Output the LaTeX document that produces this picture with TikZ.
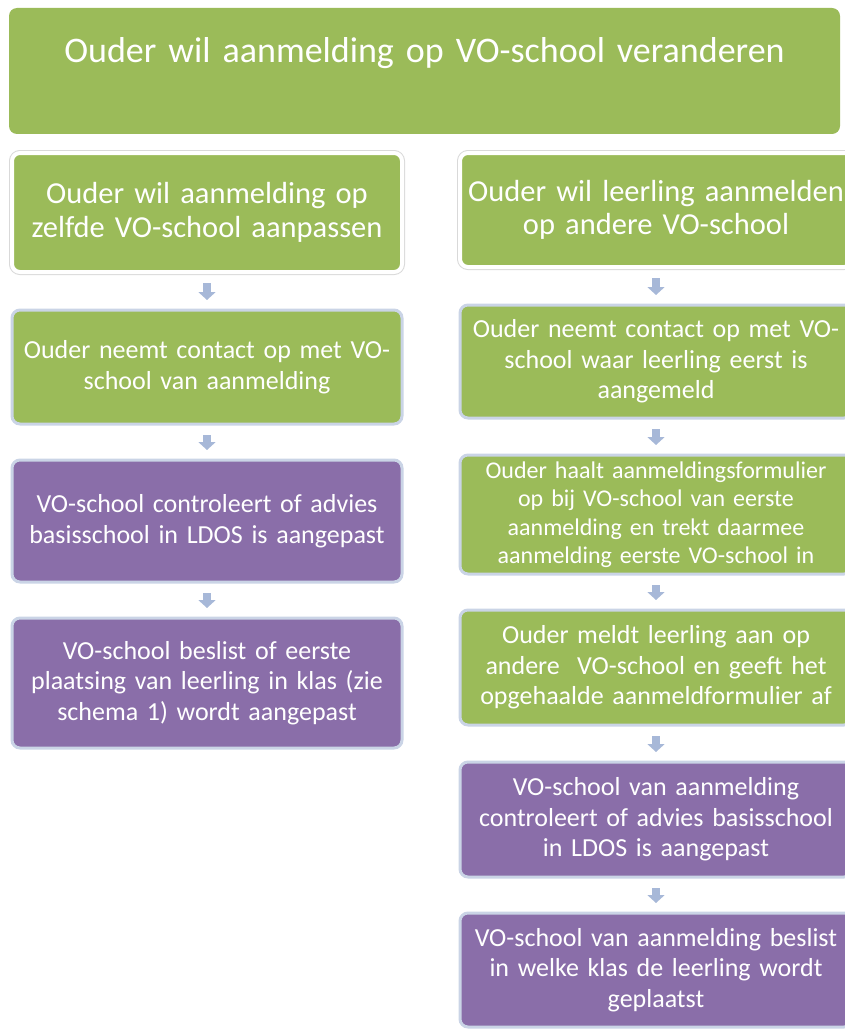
\documentclass[tikz,border=0pt]{standalone}
\usepackage{fontspec}
\setmainfont{Carlito}
\usetikzlibrary{arrows.meta}
\definecolor{groen}{HTML}{9BBB59}
\definecolor{paars}{HTML}{8A6EA9}
\definecolor{pijl}{HTML}{A7B8D8}
\definecolor{rand}{HTML}{CAD4E6}
\tikzset{
	blok/.style={rectangle, rounded corners=8pt, inner sep=0pt, outer sep=0pt, align=center, text=white, minimum width=390pt, text width=388pt},
	groenblok/.style={blok, fill=groen, draw=rand, line width=3pt, font=\fontsize{26}{30.5}\selectfont},
	paarsblok/.style={blok, fill=paars, draw=rand, line width=3pt, font=\fontsize{26}{30.5}\selectfont},
	kopblok/.style={blok, fill=groen, preaction={draw=black!15, line width=6pt}, draw=white, line width=4pt, font=\fontsize{30.5}{33.5}\selectfont},
	pijlstap/.style={draw=pijl, line width=8pt, -{Triangle[width=17pt,length=8pt]}, shorten <=11pt, shorten >=10pt}
}
\begin{document}
\begin{tikzpicture}[x=1pt,y=-1pt]
	\def\xL{207}
	\def\xR{656}
\useasboundingbox (0,0) rectangle (845,1030);
\clip (0,0) rectangle (845,1030);

%Kop
\node[blok, fill=groen, anchor=north, minimum width=831pt, text width=820pt, text height=55pt, text depth=71pt, font=\fontsize{36}{40}\selectfont] (top) at (424.5,8) {Ouder wil aanmelding op VO-school veranderen};

%Linker kolom
\node[kopblok, minimum height=119pt] (L1) at (\xL,212.5) {Ouder wil aanmelding op\\zelfde VO-school aanpassen};
\node[groenblok, minimum height=114pt] (L2) at (\xL,367) {Ouder neemt contact op met VO-\\school van aanmelding};
\node[paarsblok, minimum height=122pt] (L3) at (\xL,521) {VO-school controleert of advies\\basisschool in LDOS is aangepast};
\node[paarsblok, minimum height=130pt] (L4) at (\xL,683) {VO-school beslist of eerste\\plaatsing van leerling in klas (zie\\schema 1) wordt aangepast};

%Rechter kolom
\node[kopblok, minimum width=392pt, minimum height=114pt] (R1) at (\xR,210) {Ouder wil leerling aanmelden\\op andere VO-school};
\node[groenblok, minimum width=392pt, minimum height=113pt] (R2) at (\xR,361.5) {Ouder neemt contact op met VO-\\school waar leerling eerst is\\aangemeld};
\node[groenblok, minimum width=392pt, minimum height=119pt, font=\fontsize{24}{28.5}\selectfont] (R3) at (\xR,514.5) {Ouder haalt aanmeldingsformulier\\op bij VO-school van eerste\\aanmelding en trekt daarmee\\aanmelding eerste VO-school in};
\node[groenblok, minimum width=392pt, minimum height=115pt] (R4) at (\xR,667.5) {Ouder meldt leerling aan op\\andere~ VO-school en geeft het\\opgehaalde aanmeldformulier af};
\node[paarsblok, minimum width=392pt, minimum height=115pt] (R5) at (\xR,819.5) {VO-school van aanmelding\\controleert of advies basisschool\\in LDOS is aangepast};
\node[paarsblok, minimum width=392pt, minimum height=114pt] (R6) at (\xR,970) {VO-school van aanmelding beslist\\in welke klas de leerling wordt\\geplaatst};

%Pijlen
\foreach \a/\b in {L1/L2,L2/L3,L3/L4,R1/R2,R2/R3,R3/R4,R4/R5,R5/R6}
	\draw[pijlstap] (\a) -- (\b);

\end{tikzpicture}
\end{document}
